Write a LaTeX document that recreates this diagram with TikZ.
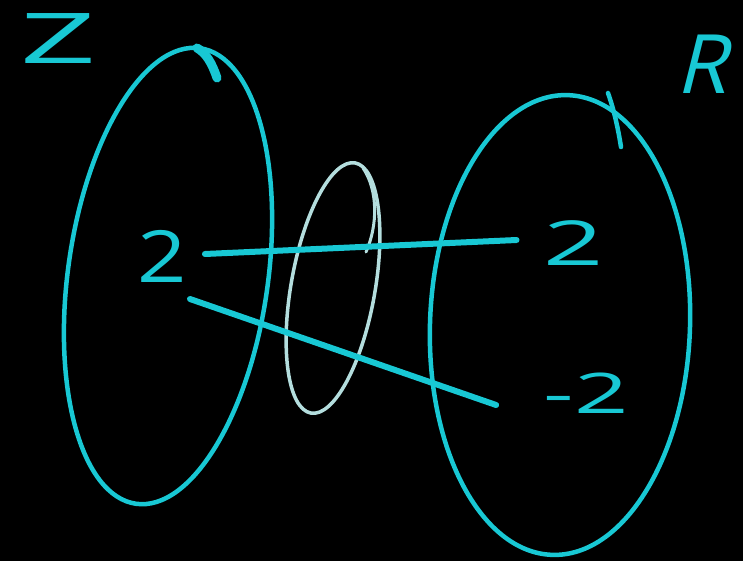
\documentclass[tikz,border=0pt]{standalone}
\usepackage{fontspec}
\setmainfont{Open Sans}
\usepackage{tikz}
\usetikzlibrary{arrows.meta,positioning,calc}
\definecolor{ChalkCyan}{RGB}{24,200,212}
\definecolor{ChalkPale}{RGB}{180,222,222}

\begin{document}
\begin{tikzpicture}[x=1pt,y=-1pt,line cap=round,
  ring/.style={line width=4.5pt,draw=ChalkCyan},
  map/.style={line width=6pt,draw=ChalkCyan},
  chalk/.style={text=ChalkCyan,inner sep=0pt}]
  \useasboundingbox (0,0) rectangle (743,561);
  \fill[black] (0,0) rectangle (743,561);
  \draw[ring,rotate around={-8:(168,276)}] (168,276)
    ellipse [x radius=100,y radius=230];
  \draw[ChalkCyan,line width=9pt] (197,48) .. controls (206,53) and (212,63) .. (217,78);
  \draw[ring,rotate around={-2:(560,325)}] (560,325)
    ellipse [x radius=130,y radius=230];
  \draw[ring] (608,93) .. controls (614,110) and (618,128) .. (621,147);
  \draw[ring,draw=ChalkPale,line width=3.5pt,rotate around={-10:(333,288)}] (333,288)
    ellipse [x radius=42,y radius=127];
  \draw[ring,draw=ChalkPale,line width=3pt] (363,168) .. controls (378,190) and (378,225) .. (366,252);
  \node[chalk,font=\fontsize{70}{70}\selectfont,xscale=1.9] (zset) at (58,39) {Z};
  \node[chalk,font=\fontsize{82}{82}\selectfont,xslant=0.25] (rset) at (708,64) {R};
  \node[chalk,font=\fontsize{72}{72}\selectfont,xscale=1.2] (twoZ) at (162,256) {2};
  \node[chalk,font=\fontsize{62}{62}\selectfont,xscale=1.7] (twoR) at (574,243) {2};
  \node[chalk,font=\fontsize{56}{56}\selectfont,xscale=1.7] (negR) at (586,393) {-2};
  \coordinate (mapB) at (190,299);
  \draw[map] ($(twoZ.east)+(18,-2)$) -- ($(twoR.west)+(-27,-3)$);
  \draw[map] (mapB) -- ($(negR.west)+(-47,12)$);
\end{tikzpicture}
\end{document}
